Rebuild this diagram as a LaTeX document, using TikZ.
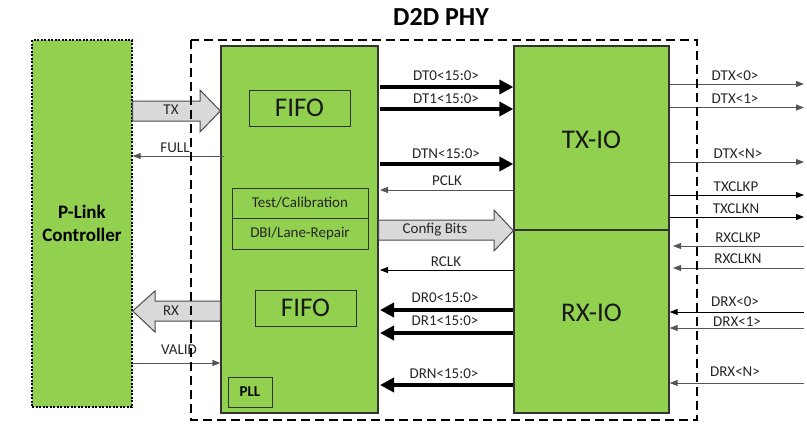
\documentclass[tikz,border=0pt]{standalone}
\usepackage{fontspec}
\setmainfont{Carlito}
\usetikzlibrary{arrows.meta}
\definecolor{lgreen}{HTML}{92D050}
\definecolor{lgray}{HTML}{D9D9D9}
\definecolor{lineg}{HTML}{555555}
\tikzset{
  blk/.style={draw=black!80,line width=1.3pt,fill=lgreen,inner sep=0pt},
  sub/.style={draw=black!80,line width=1pt,fill=lgreen,inner sep=0pt},
  lbl/.style={font=\fontsize{15}{18}\selectfont,inner sep=0pt,text=black!85},
  big/.style={font=\fontsize{27}{32}\selectfont,inner sep=0pt,text=black!90},
  bus/.style={line width=4pt,-{Triangle[length=14pt,width=14pt]}},
  sig/.style={line width=0.9pt,draw=lineg,-{Triangle[length=8pt,width=6pt]}},
  fat/.style={draw=black!70,line width=1pt,fill=lgray},
}
\begin{document}
\begin{tikzpicture}[x=1pt,y=-1pt]
\useasboundingbox (0,0) rectangle (807,424);
% P-Link controller
\node[draw=black,dash pattern=on 2pt off 1.5pt,line width=1.3pt,fill=lgreen,minimum width=100pt,minimum height=367pt,inner sep=0pt,align=center,font=\bfseries\fontsize{19}{23}\selectfont] (pl) at (82,223.5) {P-Link\\Controller};
% main blocks
\node[blk,minimum width=157pt,minimum height=367pt] (lb) at (299.5,229.5) {};
\node[sub,minimum width=101pt,minimum height=36pt,big] (f1) at (299.5,108) {FIFO};
\node[sub,minimum width=101pt,minimum height=36pt,big] (f2) at (305.5,308) {FIFO};
\node[sub,minimum width=136pt,minimum height=30pt,lbl] (tc) at (300,203) {Test/Calibration};
\node[sub,minimum width=136pt,minimum height=31pt,lbl] (dbi) at (300,233.5) {DBI/Lane-Repair};
\node[sub,minimum width=44pt,minimum height=30pt,font=\bfseries\fontsize{15}{18}\selectfont] (pll) at (250,392) {PLL};
\node[blk,minimum width=155pt,minimum height=184pt] (tx) at (591.5,138) {};
\node[big] (txt) at (591.5,140) {TX-IO};
\node[blk,minimum width=155pt,minimum height=183pt] (rx) at (591.5,321.5) {};
\node[big] (rxt) at (591.5,313) {RX-IO};
% title
\node[font=\bfseries\fontsize{26}{30}\selectfont,inner sep=0pt] (title) at (441,17) {D2D PHY};
% block arrows
\draw[fat] (pl.east |- 0,101) -- (200,101) -- (200,90) -- (lb.west |- 0,111) -- (200,132) -- (200,121) -- (pl.east |- 0,121) -- cycle;
\node[lbl] (txl) at (171,110) {TX};
\draw[fat] (lb.west |- 0,301) -- (155,301) -- (155,291) -- (pl.east |- 0,311) -- (155,332) -- (155,321) -- (lb.west |- 0,321) -- cycle;
\node[lbl] (rxl) at (171,311) {RX};
\draw[fat] (lb.east |- 0,220) -- (494,220) -- (494,210) -- (tx.south west) -- (494,251) -- (494,240) -- (lb.east |- 0,240) -- cycle;
\node[lbl] (cfg) at (435,230) {Config Bits};
% FULL / VALID
\draw[sig] (224,156) -- (pl.east |- 0,156);
\node[lbl] (fulll) at (175,148) {FULL};
\draw[sig] (pl.east |- 0,363) -- (lb.west |- 0,363);
\node[lbl] (validl) at (179,350) {VALID};
% buses to TX-IO
\draw[bus] (380,87) -- (tx.west |- 0,87);
\node[lbl] (dt0) at (446,76) {DT0<15:0>};
\draw[bus] (380,109) -- (tx.west |- 0,109);
\node[lbl] (dt1) at (446,99) {DT1<15:0>};
\draw[bus] (380,164) -- (tx.west |- 0,164);
\node[lbl] (dtn) at (446,154) {DTN<15:0>};
\draw[sig] (tx.west |- 0,190) -- (380,190);
\node[lbl] (pclk) at (447,181) {PCLK};
\draw[sig,draw=black] (tx.west |- 0,270) -- (380,270);
\node[lbl] (rclk) at (446,262) {RCLK};
\draw[bus] (rx.west |- 0,310) -- (380,310);
\node[lbl] (dr0) at (445,298) {DR0<15:0>};
\draw[bus] (rx.west |- 0,333) -- (380,333);
\node[lbl] (dr1) at (445,321) {DR1<15:0>};
\draw[bus] (rx.west |- 0,385) -- (380,385);
\node[lbl] (drn) at (444,374) {DRN<15:0>};
% right side
\coordinate (re) at (804,0);
\draw[sig] (tx.east |- 0,84) -- (re |- 0,84);
\node[lbl] (dtx0) at (735,76) {DTX<0>};
\draw[sig] (tx.east |- 0,107.5) -- (re |- 0,107.5);
\node[lbl] (dtx1) at (735,99) {DTX<1>};
\draw[sig] (tx.east |- 0,162) -- (re |- 0,162);
\node[lbl] (dtxn) at (738,154) {DTX<N>};
\draw[sig,draw=black] (tx.east |- 0,195) -- (re |- 0,195);
\node[lbl] (tckp) at (736,187) {TXCLKP};
\draw[sig,draw=black] (tx.east |- 0,217) -- (re |- 0,217);
\node[lbl] (tckn) at (736,209) {TXCLKN};
\draw[sig] (re |- 0,246) -- (673,246);
\node[lbl] (rckp) at (738,238) {RXCLKP};
\draw[sig] (re |- 0,268) -- (673,268);
\node[lbl] (rckn) at (738,259) {RXCLKN};
\draw[sig,draw=black] (re |- 0,312) -- (rx.east |- 0,312);
\node[lbl] (drx0) at (735,302) {DRX<0>};
\draw[sig] (re |- 0,328) -- (rx.east |- 0,328);
\node[lbl] (drx1) at (737,322) {DRX<1>};
\draw[sig] (re |- 0,383) -- (rx.east |- 0,383);
\node[lbl] (drxn) at (735,372) {DRX<N>};
% PHY dashed boundary
\draw[line width=2.4pt,dash pattern=on 9pt off 5pt] (191,40) rectangle (697,420);
\end{tikzpicture}
\end{document}
